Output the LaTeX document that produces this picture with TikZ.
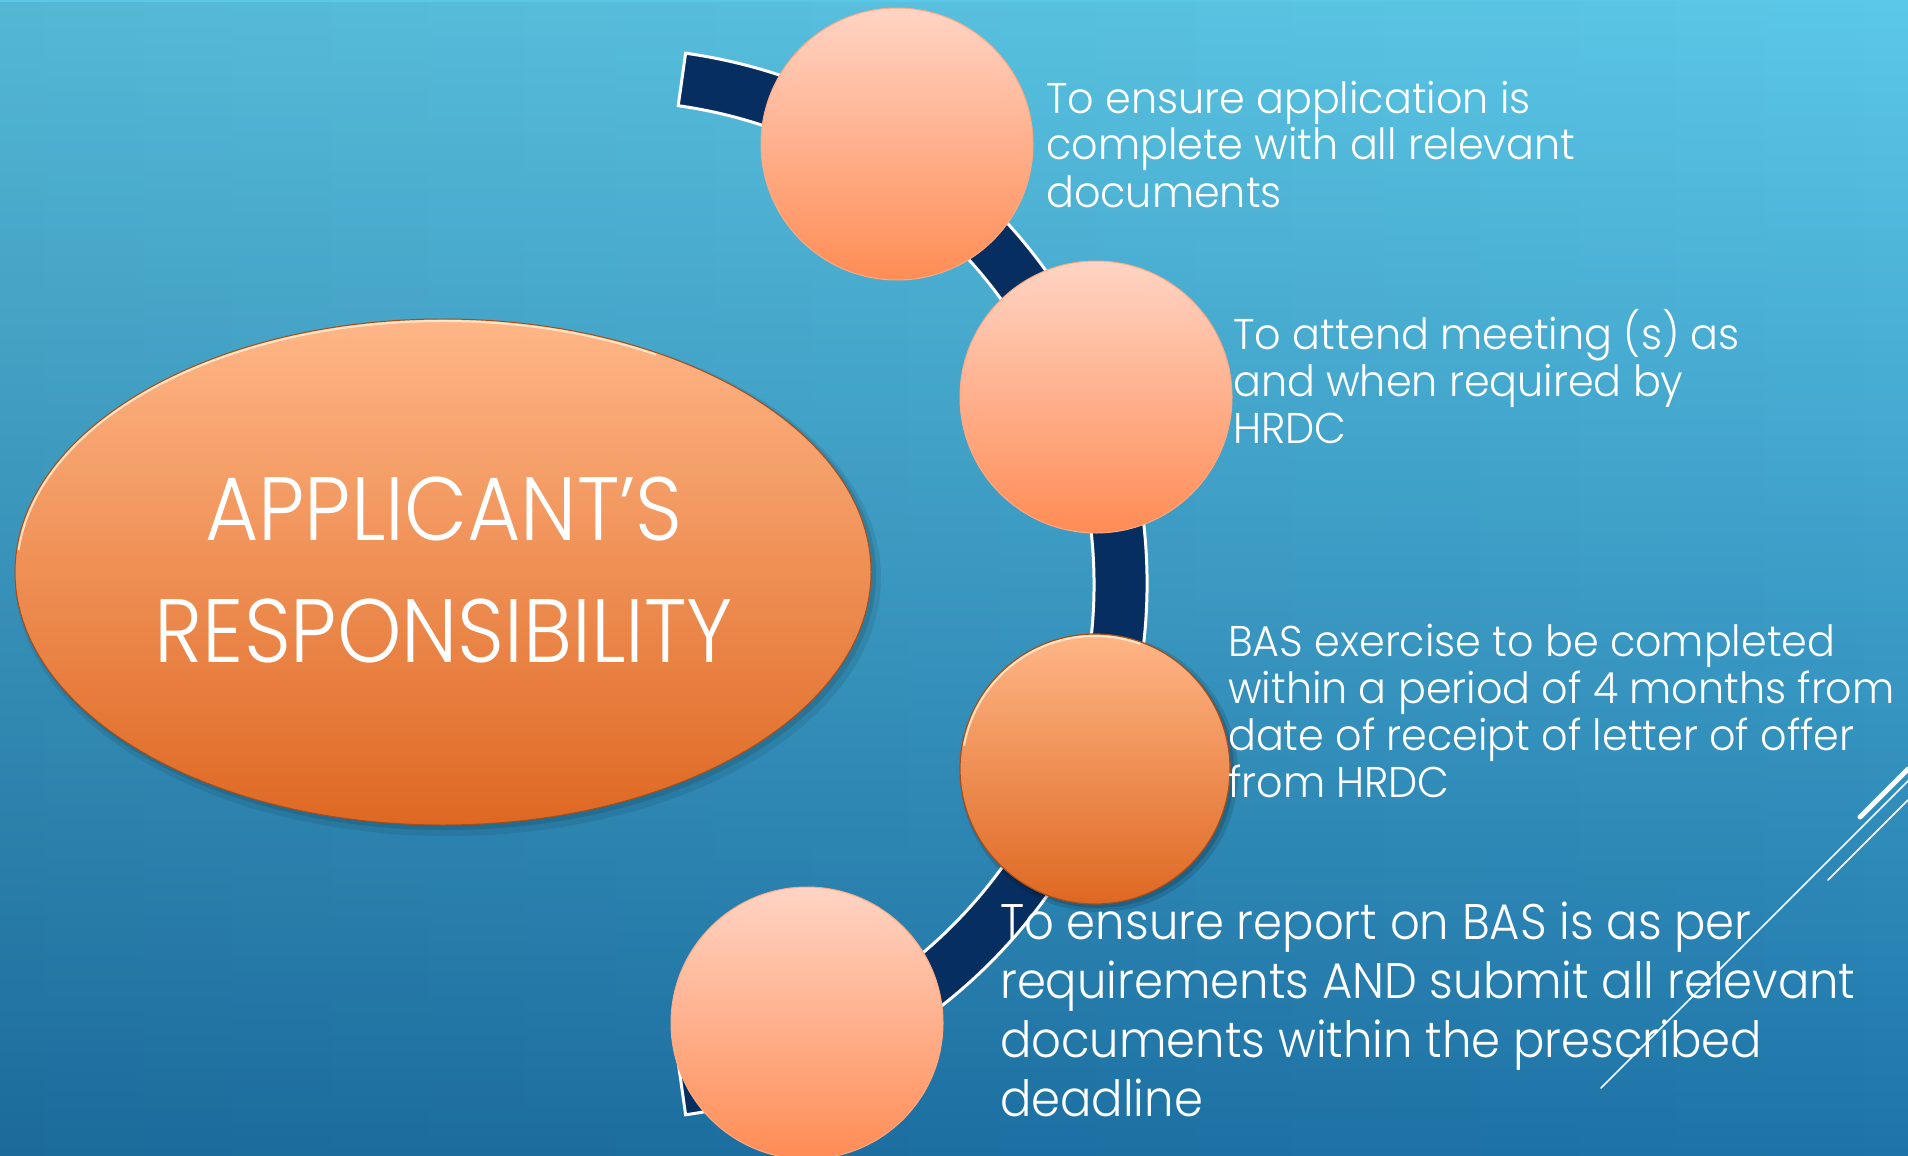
\documentclass[tikz,border=0pt]{standalone}
\usepackage{fontspec}
\setmainfont{Poppins Light}
\newfontfamily\descfont{Poppins Light}[FakeStretch=0.96]
\newfontfamily\bigdescfont{Poppins Light}[FakeStretch=0.93]
\newfontfamily\titlefont{Poppins Light}[FakeStretch=0.91]
\usetikzlibrary{shapes.geometric,fadings}
\definecolor{bgtop}{HTML}{5CC8E8}
\definecolor{bgbot}{HTML}{1E74A8}
\definecolor{navy}{HTML}{062E60}
\definecolor{peachtop}{HTML}{FFD4C4}
\definecolor{peachbot}{HTML}{FF8C55}
\definecolor{orangetop}{HTML}{FFB687}
\definecolor{orangebot}{HTML}{DE6822}
\definecolor{rim}{HTML}{FFF3D8}
\begin{document}
\begin{tikzpicture}[x=1pt,y=-1pt,
  bubble/.style={circle, minimum size=272pt, inner sep=0pt, top color=peachtop, bottom color=peachbot, draw=peachbot!60!peachtop, line width=1pt},
  bevelbubble/.style={circle, minimum size=270pt, inner sep=0pt, top color=orangetop, bottom color=orangebot, draw=orangebot!75!black, line width=1.2pt},
  desc/.style={anchor=base west, inner sep=0pt, text=white, font=\descfont\fontsize{43}{47}\selectfont},
  bigdesc/.style={desc, font=\bigdescfont\fontsize{50}{59}\selectfont},
  titletext/.style={anchor=base, inner sep=0pt, text=white, font=\titlefont\fontsize{90}{100}\selectfont},
  band/.style={fill=navy, draw=white, line width=3pt, line join=miter},
  deco/.style={draw=white, line cap=round}
]
\useasboundingbox (0,0) rectangle (1908,1156);
\shade[top color=bgtop, bottom color=bgbot] (0,0) rectangle (1908,1156);
\fill[black, opacity=.08, path fading=east] (0,0) rectangle (1908,1156);

% arc band
\draw[band] (685.6,53.2) arc[start angle=-82, end angle=82, radius=536]
  -- (678.2,1062.3) arc[start angle=82, end angle=-82, radius=483] -- cycle;

% central ellipse with shadow
\fill[black, opacity=.08] (448,578) ellipse[x radius=433, y radius=258];
\fill[black, opacity=.10] (446,575) ellipse[x radius=430, y radius=255];
\node[ellipse, minimum width=856pt, minimum height=506pt, inner sep=0pt,
  top color=orangetop, bottom color=orangebot, draw=orangebot!75!black, line width=1pt] (hub) at (443,572) {};
\draw[rim, opacity=.8, line width=2pt] (18.6,550.1) arc[start angle=185, end angle=300, x radius=426, y radius=251];
\node[titletext] (t1) at (444,540) {APPLICANT’S};
\node[titletext] (t2) at (444,662) {RESPONSIBILITY};

% bubbles
\node[bubble] (c1) at (897,144) {};
\node[bubble] (c2) at (1096,397) {};
\fill[black, opacity=.12] (1099,773) circle[radius=139];
\fill[black, opacity=.15] (1098,772) circle[radius=136];
\node[bevelbubble] (c3) at (1095,769) {};
\draw[rim, opacity=.8, line width=2pt] (1095,769) ++(190:133) arc[start angle=190, end angle=290, radius=133];
\node[bubble] (c4) at (807,1023) {};

% descriptions
\node[desc] (d1) at (1046,113) {\vtop{\hbox{To ensure application is}\hbox{complete with all relevant}\hbox{documents}}};
\node[desc] (d2) at (1233,349) {\vtop{\hbox{To attend meeting (s) as}\hbox{and when required by}\hbox{HRDC}}};
\node[desc] (d3) at (1228,656) {\vtop{\hbox{BAS exercise to be completed}\hbox{within a period of 4 months from}\hbox{date of receipt of letter of offer}\hbox{from HRDC}}};
\node[bigdesc] (d4) at (1000,939) {\vtop{\hbox{To ensure report on BAS is as per}\hbox{requirements AND submit all relevant}\hbox{documents within the prescribed}\hbox{deadline}}};

% decorative lines
\draw[deco, line width=5pt] (1860,817) -- (1908,769);
\draw[deco, line width=1.5pt] (1601,1088) -- (1908,781);
\draw[deco, line width=1.5pt] (1828,880) -- (1908,800);
\end{tikzpicture}
\end{document}
